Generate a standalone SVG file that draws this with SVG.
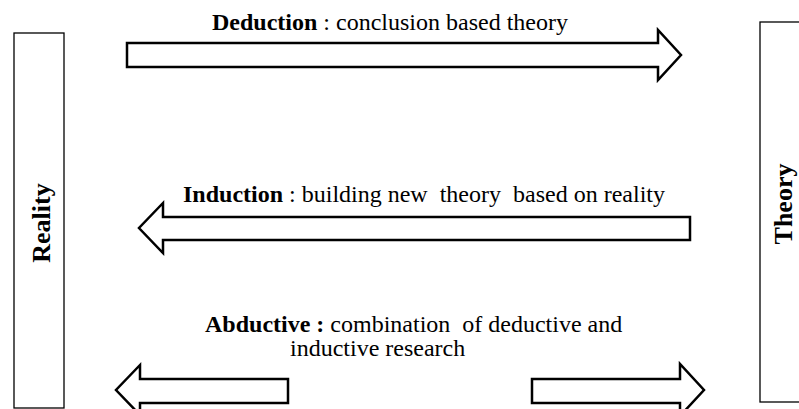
<svg xmlns="http://www.w3.org/2000/svg" width="799" height="409" viewBox="0 0 799 409">
  <style>
    text { font-family: "Liberation Serif", "Times New Roman", serif; fill: #000; }
    .lbl { font-size: 24px; }
    .b { font-weight: bold; }
    .side { font-size: 26px; font-weight: bold; }
    .box { fill: #fff; stroke: #000; stroke-width: 1.3; }
    .arrow { fill: #fff; stroke: #000; stroke-width: 2.5; stroke-linejoin: miter; }
  </style>
  <rect width="799" height="409" fill="#fff"/>

  <!-- Reality column -->
  <g id="reality">
    <rect class="box" x="14" y="33" width="50" height="375"/>
    <text class="side" text-anchor="middle" transform="translate(50 223) rotate(-90)">Reality</text>
  </g>

  <!-- Theory column -->
  <g id="theory">
    <rect class="box" x="760" y="22" width="60" height="380"/>
    <text class="side" text-anchor="middle" transform="translate(792 204) rotate(-90)">Theory</text>
  </g>

  <!-- Block arrows between the two columns -->
  <g id="connectors">
    <polygon id="deduction-arrow" class="arrow" points="127,43 658,43 658,30 681,55 658,80 658,67 127,67"/>
    <polygon id="induction-arrow" class="arrow" points="690,217 163,217 163,203 139,228 163,253 163,240 690,240"/>
    <polygon id="abductive-left" class="arrow" points="288,379 140,379 140,365 116,390 140,415 140,403 288,403"/>
    <polygon id="abductive-right" class="arrow" points="532,379 680,379 680,364 704,390 680,416 680,403 532,403"/>
  </g>

  <!-- Arrow captions -->
  <g id="deduction-label">
    <text class="lbl" x="212" y="30"><tspan class="b">Deduction</tspan> : conclusion based theory</text>
  </g>
  <g id="induction-label">
    <text class="lbl" x="183" y="202" xml:space="preserve"><tspan class="b">Induction</tspan> : building new  theory  based on reality</text>
  </g>
  <g id="abductive-label">
    <text class="lbl" x="205" y="332" xml:space="preserve"><tspan class="b">Abductive :</tspan> combination  of deductive and</text>
    <text class="lbl" x="290" y="356">inductive research</text>
  </g>
</svg>
